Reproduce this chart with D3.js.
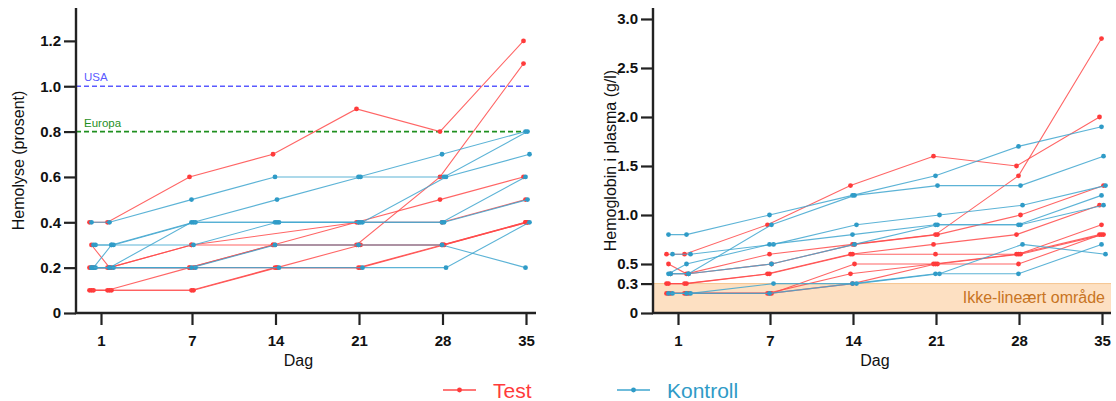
<!DOCTYPE html>
<html>
<head>
<meta charset="utf-8">
<script src="https://cdn.jsdelivr.net/npm/d3@7"></script>
<style>
  html, body { margin: 0; padding: 0; background: #fff; }
  svg { display: block; font-family: "Liberation Sans", Arial, sans-serif; }
</style>
</head>
<body>
<svg id="chart" width="1116" height="401"></svg>
<script>
// Sampling days: two samples around day 1 (before / after), then weekly
const sampleDays = [0.5, 1.5, 7, 14, 21, 28, 35];
const tickDays = [1, 7, 14, 21, 28, 35];

// Hemolysis (%) per unit (null = not measured)
const hemolyseTest = [
  [0.4, 0.4, 0.6, 0.7, 0.9, 0.8, 1.2],
  [0.3, 0.2, 0.3, null, 0.4, 0.4, 0.5],
  [0.2, 0.2, 0.2, 0.2, 0.2, 0.3, 0.4],
  [0.2, 0.2, 0.2, 0.3, 0.3, 0.6, 1.1],
  [0.1, 0.1, 0.1, 0.2, 0.2, 0.3, 0.4],
  [0.1, 0.1, 0.1, 0.2, 0.3, 0.3, 0.4],
  [0.1, 0.1, 0.2, 0.3, 0.4, 0.5, 0.6],
  [0.2, 0.2, 0.3, 0.3, 0.3, 0.3, 0.4]
];
const hemolyseKontroll = [
  [0.4, 0.4, 0.5, 0.6, 0.6, 0.7, 0.8],
  [0.2, 0.3, 0.4, 0.5, 0.6, 0.6, 0.8],
  [0.3, 0.3, 0.4, 0.4, 0.4, 0.6, 0.7],
  [0.2, 0.2, 0.4, 0.4, 0.4, 0.4, 0.6],
  [0.3, 0.3, 0.3, 0.4, 0.4, 0.4, 0.5],
  [0.2, 0.2, 0.2, 0.2, 0.2, 0.2, 0.4],
  [0.2, 0.2, 0.2, 0.3, 0.3, 0.3, 0.2]
];

// Plasma haemoglobin (g/l) per unit
const plasmaHbTest = [
  [0.6, 0.6, 0.9, 1.3, 1.6, 1.5, 2.0],
  [0.5, 0.4, 0.6, 0.7, 0.8, 1.4, 2.8],
  [0.4, 0.4, 0.5, 0.7, 0.8, 1.0, 1.3],
  [0.3, 0.3, 0.4, 0.6, 0.7, 0.8, 1.1],
  [0.3, 0.3, 0.4, 0.6, 0.6, 0.6, 0.9],
  [0.2, 0.2, 0.2, 0.5, 0.5, 0.6, 0.8],
  [0.2, 0.2, 0.2, 0.4, 0.5, 0.6, 0.8],
  [0.2, 0.2, 0.2, 0.3, 0.5, 0.5, 0.8]
];
const plasmaHbKontroll = [
  [0.8, 0.8, 1.0, 1.2, 1.4, 1.7, 1.9],
  [0.4, 0.4, 0.9, 1.2, 1.3, 1.3, 1.6],
  [0.6, 0.6, 0.7, 0.9, 1.0, 1.1, 1.3],
  [0.4, 0.5, 0.7, 0.8, 0.9, 0.9, 1.2],
  [0.4, 0.4, 0.5, 0.7, 0.9, 0.9, 1.1],
  [0.2, 0.2, 0.3, 0.3, 0.4, 0.7, 0.6],
  [0.2, 0.2, 0.2, 0.3, 0.4, 0.4, 0.7]
];

const hemolyseTicks = [0, 0.2, 0.4, 0.6, 0.8, 1.0, 1.2];
const plasmaHbTicks = [0, 0.3, 0.5, 1.0, 1.5, 2.0, 2.5, 3.0];

// Reference limits for hemolysis
const limits = [
  { label: "USA", value: 1.0, color: "#5a5aff" },
  { label: "Europa", value: 0.8, color: "#1f8f1f" }
];
const nonLinearLimit = 0.3;

const groups = [
  { name: "Test", color: "#ff3b3b", line: "#ff4a4a" },
  { name: "Kontroll", color: "#2f9bc7", line: "#3fa6cf" }
];

const svg = d3.select("#chart");
const zeroOr = d => d === 0 ? "0" : d3.format(".1f")(d);

function drawPanel(opts) {
  const g = svg.append("g");
  const x = d3.scaleLinear().domain([0.5, 1.5, 7, 35]).range(opts.xRange);
  const y = d3.scaleLinear().domain(opts.yDomain).range([313, 8]);
  const xLeft = opts.axisX, xRight = opts.axisEnd;

  if (opts.band) {
    g.append("rect")
      .attr("x", xLeft).attr("y", y(opts.band.value))
      .attr("width", xRight - xLeft)
      .attr("height", y(0) - y(opts.band.value))
      .attr("fill", "#fde0c2");
    g.append("line")
      .attr("x1", xLeft).attr("x2", xRight)
      .attr("y1", y(opts.band.value)).attr("y2", y(opts.band.value))
      .attr("stroke", "#f6c48e").attr("stroke-width", 1);
    g.append("text")
      .attr("x", xRight - 6).attr("y", y(opts.band.value / 2) + 5)
      .attr("text-anchor", "end")
      .attr("font-size", 16)
      .attr("fill", "#c87422")
      .text(opts.band.label);
  }

  (opts.limits || []).forEach(l => {
    g.append("line")
      .attr("x1", xLeft).attr("x2", x(35) + 4)
      .attr("y1", y(l.value)).attr("y2", y(l.value))
      .attr("stroke", l.color).attr("stroke-width", 1.6)
      .attr("stroke-dasharray", "5,3");
    g.append("text")
      .attr("x", xLeft + 8).attr("y", y(l.value) - 5)
      .attr("font-size", 11.5)
      .attr("fill", l.color)
      .text(l.label);
  });

  const line = d3.line()
    .x(d => x(d.day) + d.nudge)
    .y(d => y(d.v));

  opts.series.forEach((set, gi) => {
    const grp = groups[gi];
    set.forEach((vals, si) => {
      const nudge = ((si % 3) - 1) * 2 + (gi === 1 ? 1.5 : -0.5);
      // unmeasured days are skipped; the line joins the neighbouring samples
      const pts = vals.map((v, i) => ({ v, day: sampleDays[i], nudge }))
        .filter(d => d.v !== null);
      g.append("path")
        .attr("d", line(pts))
        .attr("fill", "none")
        .attr("stroke", grp.line)
        .attr("stroke-opacity", 0.85)
        .attr("stroke-width", 1.1);
      g.selectAll(null).data(pts).enter().append("circle")
        .attr("cx", d => x(d.day) + d.nudge)
        .attr("cy", d => y(d.v))
        .attr("r", 2.4)
        .attr("fill", grp.color);
    });
  });

  // Axes
  const yAxis = d3.axisLeft(y).tickValues(opts.yTicks)
    .tickFormat(zeroOr).tickSize(12).tickPadding(3);
  const ya = g.append("g").attr("transform", `translate(${xLeft},0)`).call(yAxis);
  const xAxis = d3.axisBottom(x).tickValues(tickDays)
    .tickFormat(d3.format("d")).tickSize(12).tickPadding(10);
  const xa = g.append("g").attr("transform", "translate(0,313)").call(xAxis);
  [ya, xa].forEach(a => {
    a.select(".domain").remove();
    a.selectAll(".tick line").attr("stroke", "#222").attr("stroke-width", 2.2);
    a.selectAll(".tick text")
      .attr("font-size", 15).attr("font-weight", "bold")
      .attr("fill", "#111")
      .attr("font-family", "Liberation Sans, Arial, sans-serif");
  });
  g.append("path")
    .attr("d", `M${xLeft},${y.range()[1]}V313H${xRight}`)
    .attr("fill", "none").attr("stroke", "#222").attr("stroke-width", 2.4);

  g.append("text")
    .attr("transform", `translate(${opts.yTitleX},${(313 + 8) / 2}) rotate(-90)`)
    .attr("text-anchor", "middle")
    .attr("font-size", 16).attr("fill", "#111")
    .text(opts.yTitle);
  g.append("text")
    .attr("x", (x(1) + x(35)) / 2 - 15).attr("y", 366)
    .attr("text-anchor", "middle")
    .attr("font-size", 16).attr("fill", "#111")
    .text("Dag");
}

drawPanel({
  xRange: [92, 110, 192, 526],
  axisX: 76, axisEnd: 536,
  yDomain: [0, 1.345],
  yTicks: hemolyseTicks,
  series: [hemolyseTest, hemolyseKontroll],
  limits: limits,
  yTitle: "Hemolyse (prosent)",
  yTitleX: 24
});

drawPanel({
  xRange: [669, 687, 770, 1102],
  axisX: 653, axisEnd: 1111,
  yDomain: [0, 3.112],
  yTicks: plasmaHbTicks,
  series: [plasmaHbTest, plasmaHbKontroll],
  band: { value: nonLinearLimit, label: "Ikke-lineært område" },
  yTitle: "Hemoglobin i plasma (g/l)",
  yTitleX: 616
});

// Legend
const legend = svg.append("g");
[{ x: 443 }, { x: 617 }].forEach((pos, i) => {
  const grp = groups[i];
  legend.append("line")
    .attr("x1", pos.x).attr("x2", pos.x + 33)
    .attr("y1", 390).attr("y2", 390)
    .attr("stroke", grp.line).attr("stroke-width", 1.4);
  legend.append("circle")
    .attr("cx", pos.x + 16.5).attr("cy", 390).attr("r", 2.4)
    .attr("fill", grp.color);
  legend.append("text")
    .attr("x", pos.x + 50).attr("y", 397.5)
    .attr("font-size", 21).attr("fill", grp.color)
    .text(grp.name);
});
</script>
</body>
</html>
